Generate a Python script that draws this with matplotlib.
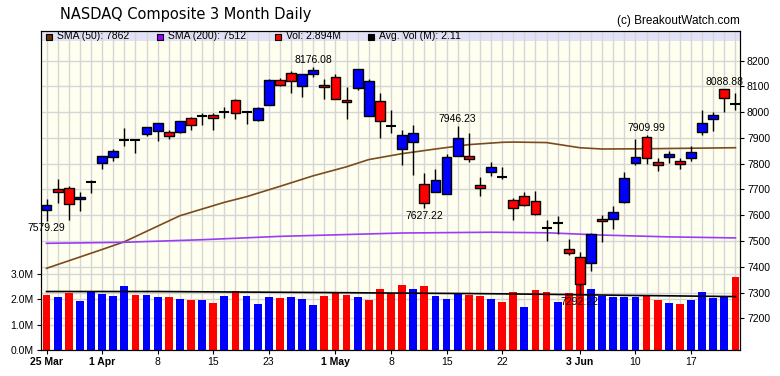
import matplotlib.pyplot as plt
from matplotlib.patches import Rectangle
from matplotlib.transforms import blended_transform_factory

plt.rcParams['font.family'] = ['Liberation Sans', 'DejaVu Sans']

# daily OHLC, 25 Mar .. 21 Jun (one entry per trading day)
opens = [7619, 7700, 7704, 7663, 7730, 7801, 7825, 7893, 7891, 7914,
         7927, 7924, 7922, 7976, 7986, 7988, 8002, 8046, 8002, 7968,
         8027, 8124, 8152, 8102, 8147, 8106, 8135, 8046, 8093, 7985,
         8045, 7946, 7856, 7884, 7720, 7689, 7684, 7830, 7829, 7717,
         7766, 7750, 7660, 7676, 7656, 7551, 7568, 7470, 7439, 7413,
         7587, 7584, 7653, 7801, 7902, 7805, 7825, 7809, 7821, 7923,
         7972, 8088, 8032]
highs = [7663, 7741, 7713, 7691, 7737, 7831, 7857, 7937, 7895, 7944,
         7959, 7931, 7967, 7983, 7996, 7998, 8019, 8051, 8005, 8019,
         8130, 8134, 8161, 8150, 8176.08, 8128, 8148, 8097, 8166, 8127,
         8073, 8009, 7931, 7949, 7763, 7779, 7838, 7946.23, 7921, 7747,
         7807, 7786, 7666, 7691, 7694, 7581, 7597, 7506, 7458, 7530,
         7601, 7636, 7768, 7896, 7909.99, 7821, 7851, 7823, 7867, 8008,
         8001, 8088.88, 8075]
lows = [7579.29, 7649, 7581, 7618, 7688, 7778, 7812, 7870, 7843, 7909,
        7889, 7897, 7918, 7931, 7952, 7931, 7979, 7975, 7953, 7966,
        8026, 8100, 8076, 8060, 8138, 8050, 8050, 7975, 8086, 7985,
        7898, 7918, 7796, 7757, 7627.22, 7689, 7684, 7830, 7808, 7676,
        7753, 7739, 7581, 7636, 7602, 7501, 7527, 7447, 7292.22, 7385,
        7497, 7545, 7649, 7795, 7798, 7773, 7804, 7778, 7810, 7913,
        7928, 8000, 8009]
closes = [7640, 7691, 7642, 7671, 7730, 7829, 7849, 7893, 7891, 7941,
          7957, 7909, 7964, 7949, 7986, 7976, 8002, 7996, 8002, 8016,
          8124, 8104, 8120, 8148, 8162, 8097, 8050, 8038, 8166, 8122,
          7966, 7946, 7910, 7918, 7647, 7735, 7825, 7898, 7817, 7706,
          7787, 7750, 7627, 7641, 7606, 7551, 7568, 7452, 7333, 7526,
          7576, 7614, 7743, 7825, 7823, 7794, 7836, 7798, 7844, 7957,
          7988, 8054, 8032]
prev_close = 7643  # close before the first day, sets colour of first volume bar

# volume in millions
volumes = [2.17, 2.09, 2.25, 1.94, 2.33, 2.21, 2.13, 2.53, 2.17, 2.17,
           2.09, 2.09, 2.02, 1.98, 1.98, 1.86, 2.13, 2.33, 2.13, 1.82,
           2.09, 2.06, 2.09, 2.02, 1.78, 2.13, 2.29, 2.17, 2.09, 1.98,
           2.41, 2.24, 2.57, 2.41, 2.53, 2.13, 2.02, 2.23, 2.19, 2.13,
           2.02, 1.90, 2.29, 1.70, 2.37, 2.29, 1.90, 2.25, 2.65, 2.41,
           2.13, 2.09, 2.09, 2.09, 2.13, 1.98, 1.86, 1.82, 1.98, 2.29,
           2.06, 2.09, 2.894]

# moving averages read at a few days
sma50_day = [0, 5, 7, 12, 16, 18, 21, 24, 27, 29, 32, 35, 38, 41, 42, 45, 48, 50, 54, 58, 62]
sma50_val = [7394, 7467, 7497, 7598, 7650, 7672, 7712, 7753, 7788, 7816, 7839, 7857, 7874,
             7883, 7884, 7882, 7862, 7857, 7858, 7860, 7862]
sma200_day = [0, 7, 14, 21, 32, 40, 45, 50, 56, 62]
sma200_val = [7491, 7495, 7505, 7518, 7531, 7534, 7532, 7523, 7516, 7512]
avgvol_day = [0, 10, 17, 25, 31, 38, 45, 52, 58, 62]
avgvol_val = [2.31, 2.31, 2.29, 2.27, 2.25, 2.23, 2.20, 2.16, 2.13, 2.11]

# labelled extremes: (day, 'high' or 'low')
marks = [(0, 'low'), (24, 'high'), (34, 'low'), (37, 'high'), (48, 'low'), (54, 'high'), (61, 'high')]

tick_days = [0, 5, 10, 15, 20, 26, 31, 36, 41, 48, 53, 58]
tick_labels = ['25 Mar', '1 Apr', '8', '15', '23', '1 May', '8', '15', '22', '3 Jun', '10', '17']
month_starts = ['25 Mar', '1 Apr', '1 May', '3 Jun']

price_ticks = [7200, 7300, 7400, 7500, 7600, 7700, 7800, 7900, 8000, 8100, 8200]
vol_ticks = [0, 1, 2, 3]

BLUE = '#0000ff'
RED = '#ff0000'
GRID = '#d6d6d6'

fig = plt.figure(figsize=(7.8, 3.76), dpi=100)
ax_v = fig.add_axes([40.5 / 780, 26 / 376, 699.5 / 780, 319 / 376])
ax_p = ax_v.twinx()
ax_v.set_facecolor('#fffff0')
ax_v.set_axisbelow(True)

n = len(closes)
days = list(range(n))

# volume bars coloured by change from previous close
prevs = [prev_close] + closes[:-1]
vcols = [BLUE if c > p else RED for c, p in zip(closes, prevs)]
ax_v.bar(days, volumes, width=0.7, color=vcols, zorder=2)
ax_v.plot(avgvol_day, avgvol_val, color='k', lw=1.2, zorder=3)

ax_v.set_xlim(-0.54, 62.41)
ax_v.set_ylim(0, 12.6)
ax_p.set_ylim(7077, 8315)

# grids
ax_v.set_xticks(days, minor=True)
ax_v.grid(which='both', axis='x', color=GRID, lw=1)
ax_v.grid(which='major', axis='y', color=GRID, lw=1)
tr = blended_transform_factory(ax_v.transAxes, ax_p.transData)
for p in price_ticks:
    ax_v.plot([0, 1], [p, p], transform=tr, color=GRID, lw=1, zorder=0.5)

# legend band
ax_v.add_patch(Rectangle((0, 1 - 10 / 319), 1, 10 / 319, transform=ax_v.transAxes,
                         facecolor='#e2e2f6', edgecolor='none', zorder=0.4))

# moving averages
ax_p.plot(sma50_day, sma50_val, color='#7b4a1e', lw=1.2, zorder=2)
ax_p.plot(sma200_day, sma200_val, color='#9a3cf5', lw=1.2, zorder=2)

# candles
for i in days:
    o, h, l, c = opens[i], highs[i], lows[i], closes[i]
    ax_p.vlines(i, l, h, color='k', lw=1, zorder=3)
    if c == o:
        ax_p.hlines(c, i - 0.45, i + 0.45, color='k', lw=1.5, zorder=4)
    else:
        ax_p.bar(i, abs(c - o), bottom=min(o, c), width=0.88,
                 color=BLUE if c > o else RED, edgecolor='k', lw=1, zorder=4)

for d, kind in marks:
    if kind == 'high':
        ax_p.annotate(f'{highs[d]:.2f}', xy=(d, highs[d]), xytext=(0, 1.5),
                      textcoords='offset points', ha='center', va='bottom', fontsize=7.5, zorder=5)
    else:
        ax_p.annotate(f'{lows[d]:.2f}', xy=(d, lows[d]), xytext=(0, -2),
                      textcoords='offset points', ha='center', va='top', fontsize=7.5, zorder=5)

# axes and ticks
ax_v.set_xticks(tick_days)
ax_v.set_xticklabels(tick_labels)
for lab in ax_v.get_xticklabels():
    if lab.get_text() in month_starts:
        lab.set_fontweight('bold')
ax_v.tick_params(axis='x', which='major', length=3, pad=2, labelsize=7.5)
ax_v.tick_params(axis='x', which='minor', length=0)
ax_v.set_yticks(vol_ticks)
ax_v.set_yticklabels([f'{v:.1f}M' for v in vol_ticks])
ax_v.tick_params(axis='y', length=3, pad=2, labelsize=7.5)
ax_p.set_yticks(price_ticks)
ax_p.tick_params(axis='y', length=3, pad=2, labelsize=7.5)

# title and copyright
fig.text(60 / 780, 1 - 14 / 376, 'NASDAQ Composite 3 Month Daily', fontsize=10.5,
         family='DejaVu Sans', va='center', ha='left')
fig.text(740 / 780, 1 - 21 / 376, '(c) BreakoutWatch.com', fontsize=8.5, va='center', ha='right')

# legend entries in the band
legend_items = [(46, '#663300', 'SMA (50): 7862'), (157, '#9900ff', 'SMA (200): 7512'),
                (275, RED, 'Vol: 2.894M'), (368, 'k', 'Avg. Vol (M): 2.11')]
for x, col, txt in legend_items:
    fig.add_artist(Rectangle((x / 780, 1 - 39.5 / 376), 6 / 780, 6 / 376, transform=fig.transFigure,
                             facecolor=col, edgecolor='k', lw=0.8))
    fig.text((x + 11) / 780, 1 - 36 / 376, txt, fontsize=7.5, va='center', ha='left')

fig.savefig('out.png', dpi=100)
